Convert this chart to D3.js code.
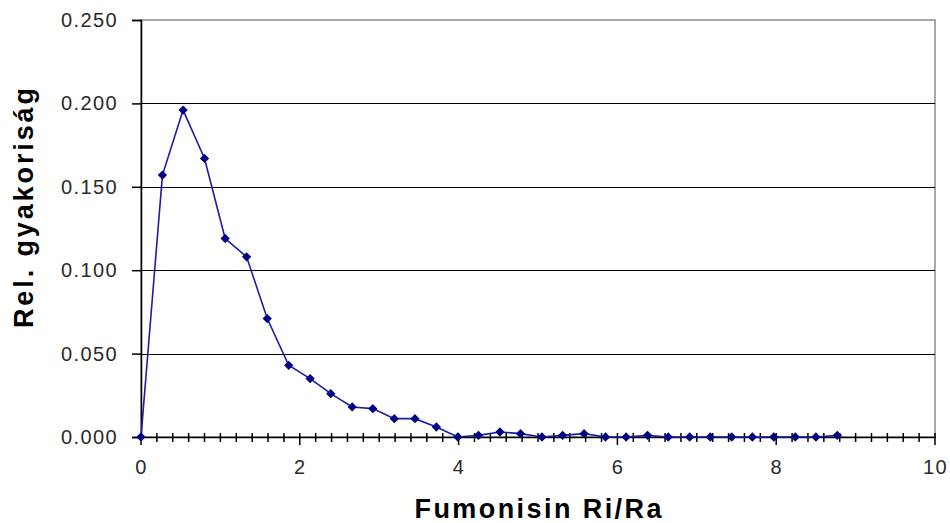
<!DOCTYPE html>
<html><head><meta charset="utf-8">
<script src="https://cdn.jsdelivr.net/npm/d3@7"></script>
<style>html,body{margin:0;padding:0;background:#fff;}svg{display:block;}</style>
</head><body>
<svg id="chart" width="950" height="523"></svg>
<script>
const xValues = [0.00,0.27,0.53,0.80,1.06,1.33,1.59,1.86,2.13,2.39,2.66,2.92,3.19,3.45,3.72,3.99,4.25,4.52,4.78,5.05,5.31,5.58,5.85,6.11,6.38,6.64,6.91,7.17,7.44,7.70,7.97,8.24,8.50,8.77];
const yValues = [0.000,0.157,0.196,0.167,0.119,0.108,0.071,0.043,0.035,0.026,0.018,0.017,0.011,0.011,0.006,0.000,0.001,0.003,0.002,0.000,0.001,0.002,0.000,0.000,0.001,0.000,0.000,0.000,0.000,0.000,0.000,0.000,0.000,0.001];
const yTicks = [0, 0.05, 0.10, 0.15, 0.20, 0.25];
const xTicks = [0, 2, 4, 6, 8, 10];
const xTitle = "Fumonisin Ri/Ra";
const yTitle = "Rel. gyakoriság";

const svg = d3.select("#chart");
const m = {left:141, right:935, top:20, bottom:437};
const x = d3.scaleLinear().domain([0,10]).range([m.left, m.right]);
const y = d3.scaleLinear().domain([0,0.25]).range([m.bottom, m.top]);
const font = "Arial, 'Liberation Sans', sans-serif";

// plot border (gray)
svg.append("rect").attr("x", m.left).attr("y", m.top)
  .attr("width", m.right - m.left).attr("height", m.bottom - m.top)
  .attr("fill", "none").attr("stroke", "#8c8c8c").attr("stroke-width", 1.5);

// gridlines
svg.append("g").selectAll("line").data(yTicks.filter(d => d > 0 && d < 0.25)).join("line")
  .attr("x1", m.left).attr("x2", m.right)
  .attr("y1", d => Math.round(y(d)) + 0.5).attr("y2", d => Math.round(y(d)) + 0.5)
  .attr("stroke", "#000").attr("stroke-width", 1.2);

// y axis
const yAxis = d3.axisLeft(y).tickValues(yTicks).tickFormat(d3.format(".3f")).tickSize(9).tickPadding(14);
const gy = svg.append("g").attr("transform", `translate(${m.left},0)`).call(yAxis);
gy.select(".domain").attr("stroke", "#000").attr("stroke-width", 1.5);
gy.selectAll(".tick line").attr("stroke", "#000").attr("stroke-width", 1.5);
gy.selectAll(".tick text").attr("font-family", font).attr("font-size", 20)
  .attr("letter-spacing", "1.4px").attr("fill", "#2a2a2a");

// x axis minor ticks
const minor = d3.range(0, 51).map(i => i * 0.2);
svg.append("g").selectAll("line").data(minor).join("line")
  .attr("x1", d => x(d)).attr("x2", d => x(d))
  .attr("y1", m.bottom - 4).attr("y2", d => (Math.abs(d/2 - Math.round(d/2)) < 1e-6) ? m.bottom + 8 : m.bottom + 5)
  .attr("stroke", "#000").attr("stroke-width", 1.5);

const xAxis = d3.axisBottom(x).tickValues(xTicks).tickFormat(d3.format("d")).tickSize(0).tickPadding(23);
const gx = svg.append("g").attr("transform", `translate(0,${m.bottom})`).call(xAxis);
gx.select(".domain").attr("stroke", "#000").attr("stroke-width", 1.5);
gx.selectAll(".tick text").attr("font-family", font).attr("font-size", 20)
  .attr("letter-spacing", "1.4px").attr("fill", "#2a2a2a");

// line
const pts = xValues.map((v, i) => [v, yValues[i]]);
svg.append("path").datum(pts)
  .attr("d", d3.line().x(d => x(d[0])).y(d => y(d[1])))
  .attr("fill", "none").attr("stroke", "#1c1ca8").attr("stroke-width", 1.6);

// markers (diamonds)
svg.append("g").selectAll("path").data(pts).join("path")
  .attr("transform", d => `translate(${x(d[0])},${y(d[1])})`)
  .attr("d", d3.symbol(d3.symbolDiamond2, 55))
  .attr("fill", "#000080");

// titles
svg.append("text").attr("x", 538).attr("y", 518).attr("text-anchor", "middle")
  .attr("font-family", font).attr("font-weight", "bold").attr("font-size", 27)
  .attr("textLength", 247).attr("lengthAdjust", "spacing").attr("fill", "#000")
  .text(xTitle);
svg.append("text").attr("transform", "translate(33,208) rotate(-90)").attr("text-anchor", "middle")
  .attr("font-family", font).attr("font-weight", "bold").attr("font-size", 27)
  .attr("textLength", 240).attr("lengthAdjust", "spacing").attr("fill", "#000")
  .text(yTitle);
</script>
</body></html>
